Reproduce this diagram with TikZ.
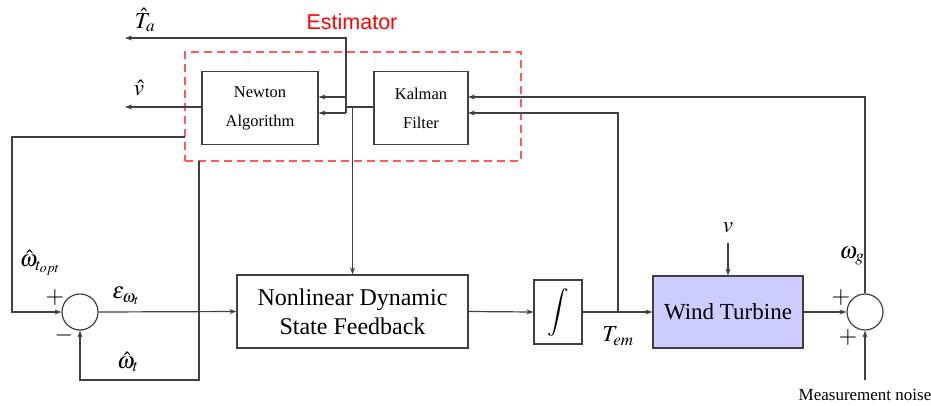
\documentclass[tikz,border=0pt]{standalone}
\usepackage{mathptmx}
\usepackage{fontspec}
\setmainfont{Liberation Serif}
\newfontfamily\estfont{Liberation Sans}
\usetikzlibrary{arrows.meta}
\begin{document}
\begin{tikzpicture}[x=1pt,y=-1pt,
  ln/.style={line width=1.2pt, draw=black!75},
  arr/.style={ln, -{Stealth[length=7pt,width=5pt]}},
  blk/.style={ln, draw, rectangle, inner sep=0pt, align=center},
  smallblk/.style={blk, minimum width=116pt, minimum height=73pt, font=\fontsize{16.5}{29}\selectfont},
  sumc/.style={ln, draw, circle, minimum size=36pt, inner sep=0pt},
  lab/.style={font=\fontsize{23}{26}\selectfont, inner sep=0pt},
  sgn/.style={font=\fontsize{24}{26}\selectfont, inner sep=0pt}]
\useasboundingbox (0,0) rectangle (931,405);

% estimator dashed box
\node[draw=red!65, line width=1.3pt, dash pattern=on 8pt off 5pt, minimum width=336pt, minimum height=109pt, inner sep=0pt] (est) at (353,106.5) {};
\node[font=\estfont\fontsize{21.5}{24}\selectfont, text=red, inner sep=0pt] (estlab) at (352,22) {Estimator};

% blocks
\node[smallblk] (newton) at (260,108) {Newton\\Algorithm};
\node[smallblk, minimum width=94pt] (kalman) at (421,108) {Kalman\\Filter};
\node[blk, minimum width=231pt, minimum height=73pt, font=\fontsize{24}{29}\selectfont] (ndsf) at (352.5,311.5) {Nonlinear Dynamic\\State Feedback};
\node[blk, minimum width=48pt, minimum height=64pt, font=\fontsize{24}{26}\selectfont] (int) at (558,312) {$\displaystyle\int$};
\node[blk, fill=blue!20, minimum width=150pt, minimum height=72pt, font=\fontsize{23}{26}\selectfont] (wt) at (728,312) {Wind Turbine};
\node[sumc] (sum1) at (80,312) {};
\node[sumc] (sum2) at (865,312) {};

% coordinates
\coordinate (busT) at (346,38);
\coordinate (bus1) at (346,97);
\coordinate (busB) at (346,113);
\coordinate (taend) at (125,38);
\coordinate (vhend) at (125,107);
\coordinate (tap) at (352.5,107);
\coordinate (fb1) at (185,137);
\coordinate (fb1b) at (12,137);
\coordinate (fb2) at (199,161);
\coordinate (fb2b) at (199,380);
\coordinate (br) at (618,312);
\coordinate (kin1) at (468,97);
\coordinate (kin2) at (468,113);
\coordinate (vin) at (728,243);
\coordinate (noise) at (865,380);

% connectors
\draw[arr] (busB) -- (busT) -- (taend);
\draw[arr] (bus1) -- (bus1 -| newton.east);
\draw[arr] (busB) -- (busB -| newton.east);
\draw[ln] (tap -| kalman.west) -- (tap -| busT);
\draw[arr] (tap) -- (ndsf.north);
\draw[arr] (vhend -| newton.west) -- (vhend);
\draw[arr] (fb1) -- (fb1b) |- (sum1.west);
\draw[arr] (fb2) -- (fb2b) -| (sum1.south);
\draw[arr] (sum1.east) -- (ndsf.west);
\draw[arr] (ndsf.east) -- (int.west);
\draw[arr] (int.east) -- (wt.west);
\draw[arr] (br) |- (kin2);
\draw[arr] (vin) -- (wt.north);
\draw[arr] (wt.east) -- (sum2.west);
\draw[arr] (sum2.north) |- (kin1);
\draw[arr] (noise) -- (sum2.south);

% labels
\node[lab] (lta) at (145,20) {$\hat{T}_a$};
\node[lab] (lvh) at (139,88) {$\hat{v}$};
\node[lab] (lwopt) at (40,263) {$\hat{\omega}_{t_{opt}}$};
\node[lab] (leps) at (126,296) {$\varepsilon_{\omega_t}$};
\node[lab] (lwt) at (128,362) {$\hat{\omega}_t$};
\node[lab] (ltem) at (618,336) {$T_{em}$};
\node[lab] (lv) at (728,228) {$v$};
\node[lab] (lwg) at (852,256) {$\omega_g$};
\node[sgn] (p1) at (55,297) {$+$};
\node[sgn] (m1) at (64,335) {$-$};
\node[sgn] (p2) at (841,297) {$+$};
\node[sgn] (p3) at (848,337) {$+$};
\node[font=\fontsize{17}{20}\selectfont, inner sep=0pt] (lnoise) at (865,395) {Measurement noise};
\end{tikzpicture}
\end{document}
